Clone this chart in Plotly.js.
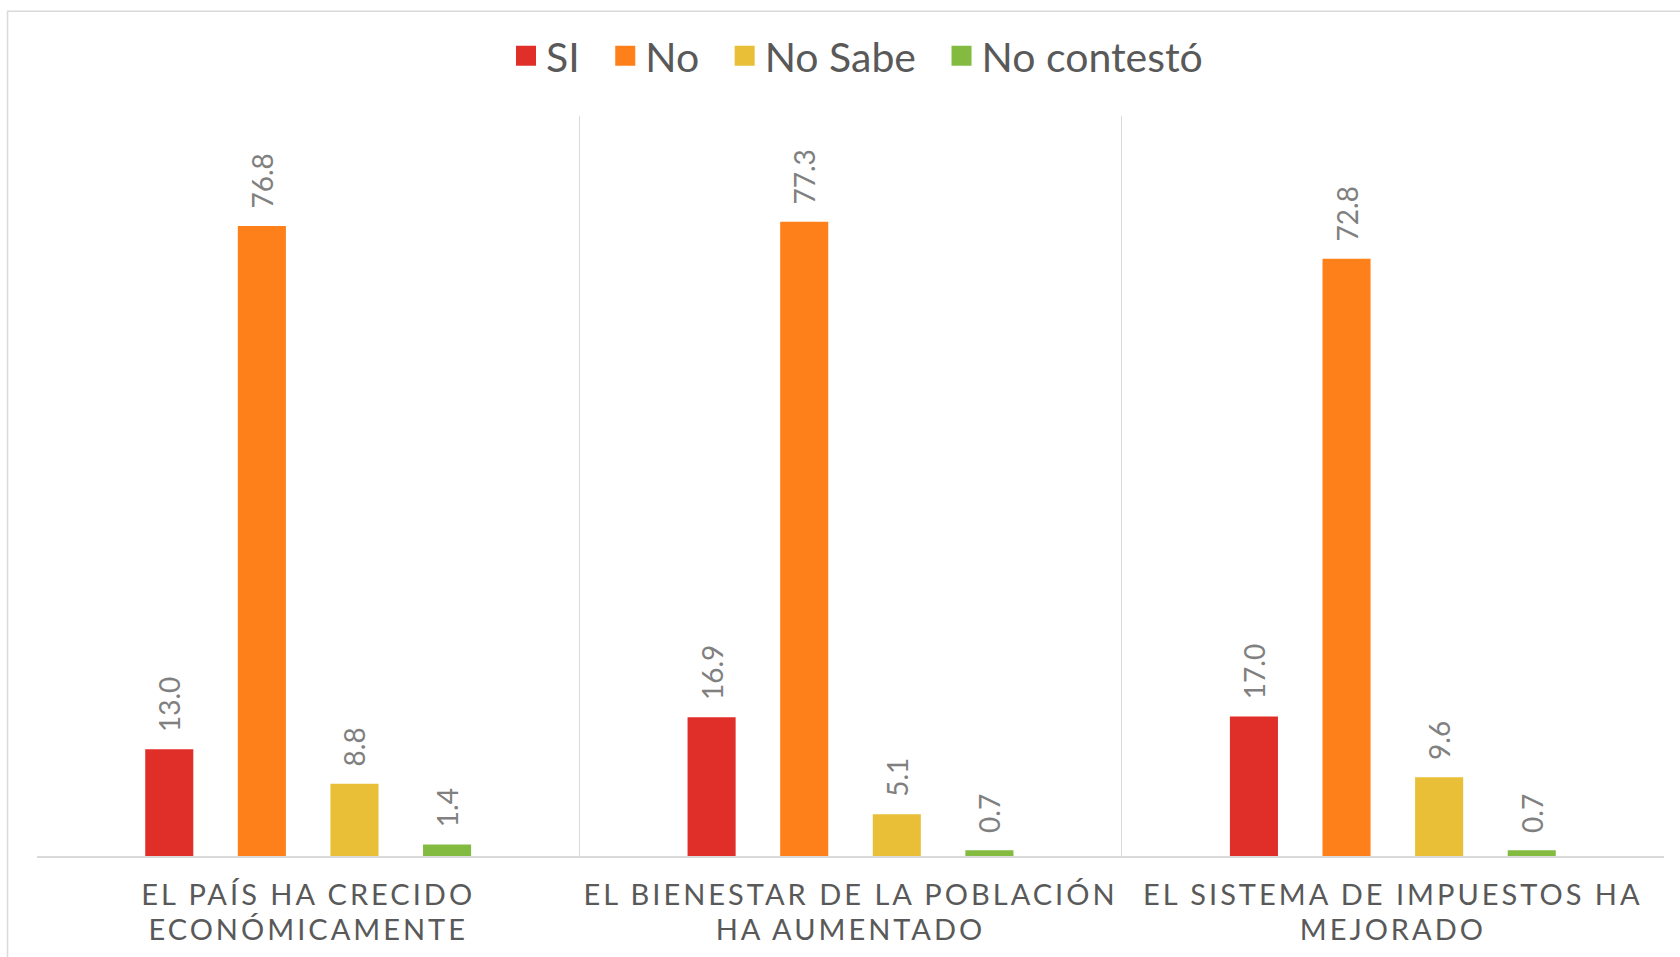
<!DOCTYPE html>
<html>
<head>
<meta charset="utf-8">
<script src="https://cdn.plot.ly/plotly-3.0.1.min.js"></script>
<style>
  html, body { margin: 0; padding: 0; background: #ffffff; }
  #chart { width: 1680px; height: 957px; }
  #chart .xtick text { letter-spacing: 3px; }
</style>
</head>
<body>
<div id="chart"></div>
<script>
// ---- data ----
const categories = [
  "EL PAÍS HA CRECIDO<br>ECONÓMICAMENTE",
  "EL BIENESTAR DE LA POBLACIÓN<br>HA AUMENTADO",
  "EL SISTEMA DE IMPUESTOS HA<br>MEJORADO"
];
const seriesNames = ["SI", "No", "No Sabe", "No contestó"];
const siValues = [13.0, 16.9, 17.0];
const noValues = [76.8, 77.3, 72.8];
const noSabeValues = [8.8, 5.1, 9.6];
const noContestoValues = [1.4, 0.7, 0.7];
const seriesColors = ["#E02E29", "#FD801B", "#E8BF37", "#83BB41"];

const seriesValues = [siValues, noValues, noSabeValues, noContestoValues];
const FONT = "Lato, 'Open Sans', sans-serif";

const traces = seriesValues.map((vals, i) => ({
  type: "bar",
  // en-space after all but the last entry widens the gap between legend items
  name: seriesNames[i] + (i < seriesNames.length - 1 ? "\u2002" : ""),
  x: categories,
  y: vals,
  marker: { color: seriesColors[i] },
  text: vals.map(v => "\u00a0\u00a0" + v.toFixed(1)),
  textposition: "outside",
  textangle: -90,
  constraintext: "none",
  cliponaxis: false,
  textfont: { family: FONT, size: 28, color: "#808080" },
  hoverinfo: "skip"
}));

const layout = {
  width: 1680,
  height: 957,
  paper_bgcolor: "#ffffff",
  plot_bgcolor: "#ffffff",
  margin: { l: 37, r: 16, t: 116, b: 101, pad: 0 },
  barmode: "group",
  bargap: 0.317,
  bargroupgap: 0.481,
  font: { family: FONT, color: "#595959" },
  showlegend: true,
  legend: {
    orientation: "h",
    x: 0.504, xanchor: "center",
    y: 1.081, yanchor: "middle",
    font: { family: FONT, size: 41, color: "#595959" },
    traceorder: "normal"
  },
  xaxis: {
    type: "category",
    tickson: "boundaries",
    ticks: "",
    showgrid: true,
    gridcolor: "#d9d9d9",
    gridwidth: 1.5,
    showline: true,
    linecolor: "#d9d9d9",
    linewidth: 1.5,
    zeroline: false,
    tickfont: { family: FONT, size: 29, color: "#595959" },
    ticklabelstandoff: 13
  },
  yaxis: {
    range: [0, 90.2],
    showgrid: false,
    zeroline: false,
    showline: false,
    showticklabels: false,
    ticks: ""
  },
  shapes: [
    {
      type: "rect", xref: "paper", yref: "paper",
      x0: -0.0181, x1: 1.05, y0: -0.3, y1: 1.1414,
      line: { color: "#d9d9d9", width: 1.5 },
      fillcolor: "rgba(0,0,0,0)",
      layer: "below"
    }
  ]
};

Plotly.newPlot("chart", traces, layout, { displayModeBar: false, staticPlot: true }).then(() => {
  document.querySelectorAll("#chart .legend .legendpoints path").forEach(p => {
    p.setAttribute("d", "M10,10H-10V-10H10Z");
  });
  // tighter line pitch for the two-line category labels
  document.querySelectorAll("#chart .xtick text tspan.line").forEach(t => {
    const dy = t.getAttribute("dy");
    if (dy && dy.endsWith("em")) {
      const n = parseFloat(dy) / 1.3;
      t.setAttribute("dy", (n * 1.2) + "em");
    }
  });
});
</script>
</body>
</html>
